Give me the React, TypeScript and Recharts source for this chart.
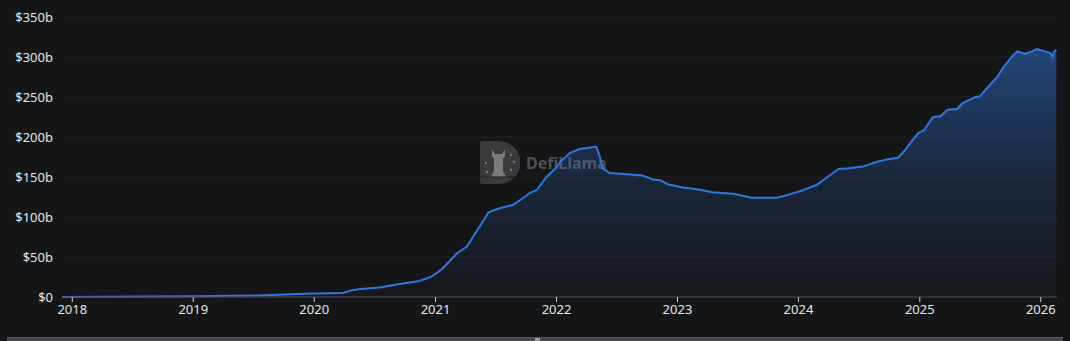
import React from "react";
import { AreaChart, Area, XAxis, YAxis, CartesianGrid } from "recharts";

const dates: string[] = [
  "2017-12-01", "2018-03-25", "2019-01-01", "2019-07-12", "2019-12-28",
  "2020-03-28", "2020-04-20", "2020-05-19", "2020-07-16", "2020-09-24",
  "2020-11-14", "2020-12-17", "2021-01-05", "2021-01-23", "2021-03-08",
  "2021-04-06", "2021-04-24", "2021-05-23", "2021-06-10", "2021-07-13",
  "2021-08-22", "2021-09-13", "2021-10-12", "2021-11-03", "2021-12-02",
  "2022-01-01", "2022-01-12", "2022-02-10", "2022-03-11", "2022-04-13",
  "2022-05-01", "2022-05-12", "2022-05-19", "2022-06-10", "2022-07-13",
  "2022-09-17", "2022-10-19", "2022-11-10", "2022-12-02", "2023-01-16",
  "2023-02-06", "2023-03-11", "2023-04-16", "2023-06-17", "2023-08-14",
  "2023-10-27", "2023-11-25", "2024-01-04", "2024-02-24", "2024-03-25",
  "2024-05-01", "2024-06-02", "2024-07-13", "2024-08-26", "2024-09-24",
  "2024-10-27", "2024-11-18", "2024-12-10", "2024-12-28", "2025-01-15",
  "2025-02-10", "2025-03-04", "2025-03-26", "2025-04-24", "2025-05-09",
  "2025-06-18", "2025-07-02", "2025-07-31", "2025-08-23", "2025-09-10",
  "2025-10-09", "2025-10-23", "2025-11-06", "2025-11-14", "2025-12-06",
  "2025-12-20", "2026-01-15", "2026-01-30", "2026-02-06", "2026-02-09",
  "2026-02-17",
];

// Total value locked, billions of USD
const tvl: number[] = [
  0, 0.3, 1, 2, 4.5,
  5, 8, 10, 12, 17,
  20, 25, 30, 36, 55,
  63, 75, 94, 106, 111,
  115, 121, 130, 134, 150,
  162, 169, 180, 185, 187,
  188, 175, 161, 155, 154,
  152, 147, 146, 141, 137,
  136, 134, 131, 129, 124,
  124, 127, 132, 140, 149,
  160, 161, 163, 169, 172,
  174, 184, 196, 205, 209,
  225, 226, 234, 235, 242,
  250, 251, 265, 275, 287,
  302, 307, 305, 304, 307,
  310, 307, 305, 300, 306,
  309,
];

const yTicks: number[] = [0, 50, 100, 150, 200, 250, 300, 350];
const yearTicks: string[] = ["2018", "2019", "2020", "2021", "2022", "2023", "2024", "2025", "2026"];

const toTs = (d: string) => Date.UTC(+d.slice(0, 4), +d.slice(5, 7) - 1, +d.slice(8, 10));

const data = dates.map((d, i) => ({ t: toTs(d), v: tvl[i] }));
const xTicks = yearTicks.map((y) => toTs(`${y}-01-01`));
const xDomain: [number, number] = [toTs("2017-12-01"), toTs("2026-02-19")];

const BG = "#141517";
const LINE = "#3276dc";
const FONT = "'Noto Sans', 'Open Sans', sans-serif";

export default function App() {
  return (
    <div
      style={{
        position: "fixed",
        left: 0,
        top: 0,
        width: 1070,
        height: 341,
        background: BG,
        overflow: "hidden",
        fontFamily: FONT,
      }}
    >
      {/* watermark */}
      <div
        style={{
          position: "absolute",
          left: 480,
          top: 141,
          display: "flex",
          alignItems: "center",
          gap: 6,
        }}
      >
        <svg width={40} height={43} viewBox="0 0 40 43">
          <path d="M2 0 H19 A21 21 0 0 1 19 43 H2 A2 2 0 0 1 0 41 V2 A2 2 0 0 1 2 0 Z" fill="#3a3a3c" />
          <path
            d="M12 8 L15 13 L22 13 L25 8 L25 15 L23 18 L23 30 L26 36 L11 36 L14 30 L14 18 L12 15 Z"
            fill="#7a7a7c"
          />
          <circle cx={31} cy={14} r={1.2} fill="#7a7a7c" />
          <circle cx={34} cy={21} r={1.2} fill="#7a7a7c" />
          <circle cx={31} cy={29} r={1.2} fill="#7a7a7c" />
          <circle cx={6} cy={22} r={1.2} fill="#7a7a7c" />
          <circle cx={7} cy={31} r={1.2} fill="#7a7a7c" />
        </svg>
        <span style={{ color: "#505052", fontWeight: 700, fontSize: 16, letterSpacing: 0 }}>DefiLlama</span>
      </div>

      <div style={{ position: "absolute", left: 0, top: 0 }}>
        <AreaChart
          width={1070}
          height={341}
          data={data}
          margin={{ top: 17, right: 13, bottom: 10, left: 0 }}
        >
          <defs>
            <linearGradient id="tvlFill" x1="0" y1="0" x2="0" y2="1">
              <stop offset="0%" stopColor={LINE} stopOpacity={0.82} />
              <stop offset="50%" stopColor={LINE} stopOpacity={0.32} />
              <stop offset="100%" stopColor={LINE} stopOpacity={0.04} />
            </linearGradient>
          </defs>
          <CartesianGrid vertical={false} stroke="#1e1f22" strokeWidth={1} />
          <XAxis
            dataKey="t"
            type="number"
            scale="time"
            domain={xDomain}
            ticks={xTicks}
            tickFormatter={(t: number) => String(new Date(t).getUTCFullYear())}
            height={34}
            stroke="#4a4b4e"
            tickLine={{ stroke: "#d0d0d0" }}
            tickSize={5}
            tickMargin={3}
            tick={{ fill: "#e6e6e6", fontSize: 13, fontFamily: FONT }}
            allowDataOverflow
          />
          <YAxis
            type="number"
            domain={[0, 350]}
            ticks={yTicks}
            tickFormatter={(v: number) => (v === 0 ? "$0" : `$${v}b`)}
            width={62}
            axisLine={false}
            tickLine={false}
            tickSize={0}
            tickMargin={9}
            tick={{ fill: "#e6e6e6", fontSize: 13, fontFamily: FONT }}
          />
          <Area
            type="linear"
            dataKey="v"
            stroke={LINE}
            strokeWidth={2}
            fill="url(#tvlFill)"
            isAnimationActive={false}
            dot={false}
            activeDot={false}
          />
        </AreaChart>
      </div>

      {/* bottom scroll strip */}
      <div
        style={{
          position: "absolute",
          left: 7,
          top: 337,
          width: 1056,
          height: 4,
          background: "#46474a",
          borderTop: "1px solid #58595c",
          boxSizing: "border-box",
        }}
      />
      <div
        style={{
          position: "absolute",
          left: 535,
          top: 338,
          width: 5,
          height: 3,
          background: "#9a9a9a",
        }}
      />
    </div>
  );
}
